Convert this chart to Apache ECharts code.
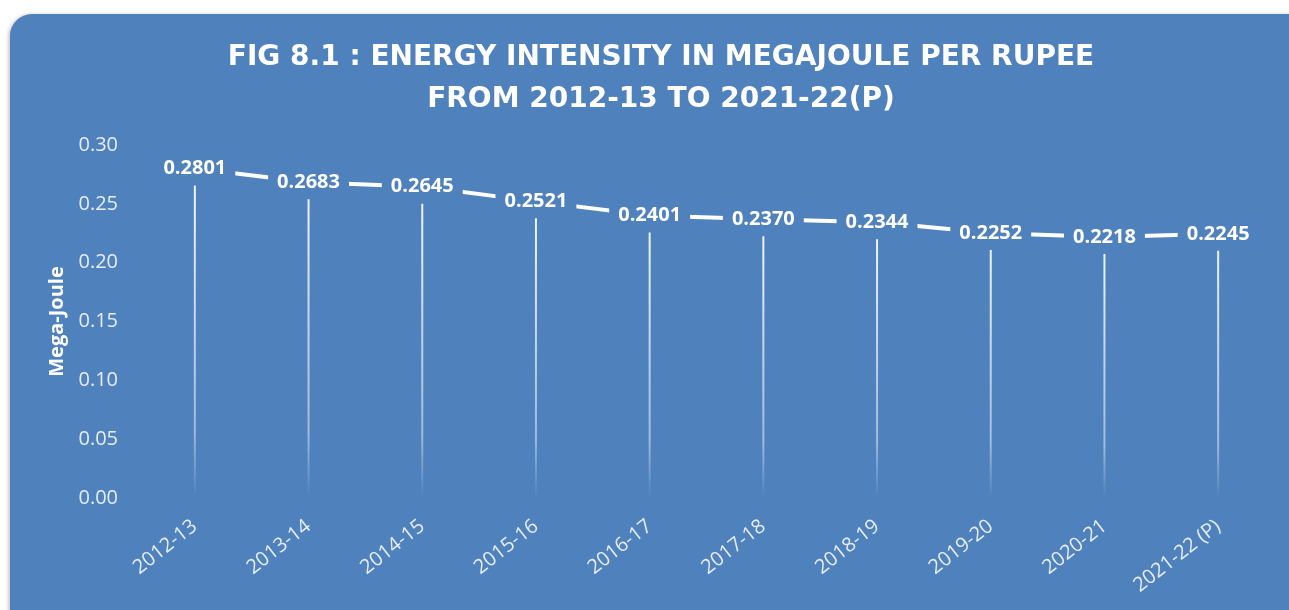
<!DOCTYPE html>
<html>
<head>
<meta charset="utf-8">
<script src="https://cdn.jsdelivr.net/npm/echarts@6/dist/echarts.min.js"></script>
<style>
  html, body { margin: 0; padding: 0; background: #ffffff; }
  #chart { width: 1289px; height: 610px; }
</style>
</head>
<body>
<div id="chart"></div>
<script>
var years = ['2012-13', '2013-14', '2014-15', '2015-16', '2016-17', '2017-18', '2018-19', '2019-20', '2020-21', '2021-22 (P)'];
var intensity = [0.2801, 0.2683, 0.2645, 0.2521, 0.2401, 0.2370, 0.2344, 0.2252, 0.2218, 0.2245];
var titleText = 'FIG 8.1 : ENERGY INTENSITY IN MEGAJOULE PER RUPEE\nFROM 2012-13 TO 2021-22(P)';

var bg = '#4f81bd';
var chart = echarts.init(document.getElementById('chart'));

chart.setOption({
  backgroundColor: '#ffffff',
  graphic: [{
    type: 'rect',
    z: -10,
    shape: { x: 10, y: 14, width: 1300, height: 640, r: 22 },
    style: {
      fill: bg,
      shadowBlur: 4,
      shadowColor: 'rgba(0,0,0,0.3)',
      shadowOffsetX: -1,
      shadowOffsetY: 1
    }
  }],
  title: {
    text: titleText,
    left: 656,
    textAlign: 'center',
    top: 32,
    textStyle: {
      color: '#ffffff',
      fontFamily: 'DejaVu Sans',
      fontWeight: 'bold',
      fontSize: 28,
      lineHeight: 42
    }
  },
  grid: { left: 138, right: 14, top: 145, bottom: 112 },
  xAxis: {
    type: 'category',
    data: years,
    axisLine: { show: false },
    axisTick: { show: false },
    axisLabel: {
      rotate: 38,
      color: '#e6edf6',
      fontFamily: 'Open Sans',
      fontSize: 20,
      margin: 26
    }
  },
  yAxis: {
    type: 'value',
    min: 0,
    max: 0.30,
    interval: 0.05,
    name: 'Mega-Joule',
    nameLocation: 'middle',
    nameRotate: 90,
    nameGap: 70,
    nameTextStyle: { color: '#ffffff', fontFamily: 'Open Sans', fontWeight: 'bold', fontSize: 20 },
    axisLine: { show: false },
    axisTick: { show: false },
    splitLine: { show: false },
    axisLabel: {
      color: '#e6edf6',
      fontFamily: 'Open Sans',
      fontSize: 20,
      margin: 20,
      formatter: function (v) { return v.toFixed(2); }
    }
  },
  series: [{
    type: 'bar',
    data: intensity,
    barWidth: 2,
    z: 1,
    itemStyle: {
      color: new echarts.graphic.LinearGradient(0, 0, 0, 1, [
        { offset: 0, color: 'rgba(255,255,255,0.95)' },
        { offset: 0.8, color: 'rgba(255,255,255,0.45)' },
        { offset: 1, color: 'rgba(255,255,255,0)' }
      ])
    },
    silent: true
  }, {
    type: 'line',
    data: intensity,
    z: 3,
    symbol: 'circle',
    symbolSize: 1,
    showSymbol: true,
    itemStyle: { color: 'rgba(255,255,255,0)' },
    lineStyle: { color: '#ffffff', width: 4 },
    label: {
      show: true,
      position: 'inside',
      color: '#ffffff',
      fontFamily: 'Open Sans',
      fontWeight: 'bold',
      fontSize: 20,
      backgroundColor: bg,
      padding: [7, 9],
      formatter: function (p) { return p.value.toFixed(4); }
    }
  }]
});
</script>
</body>
</html>
